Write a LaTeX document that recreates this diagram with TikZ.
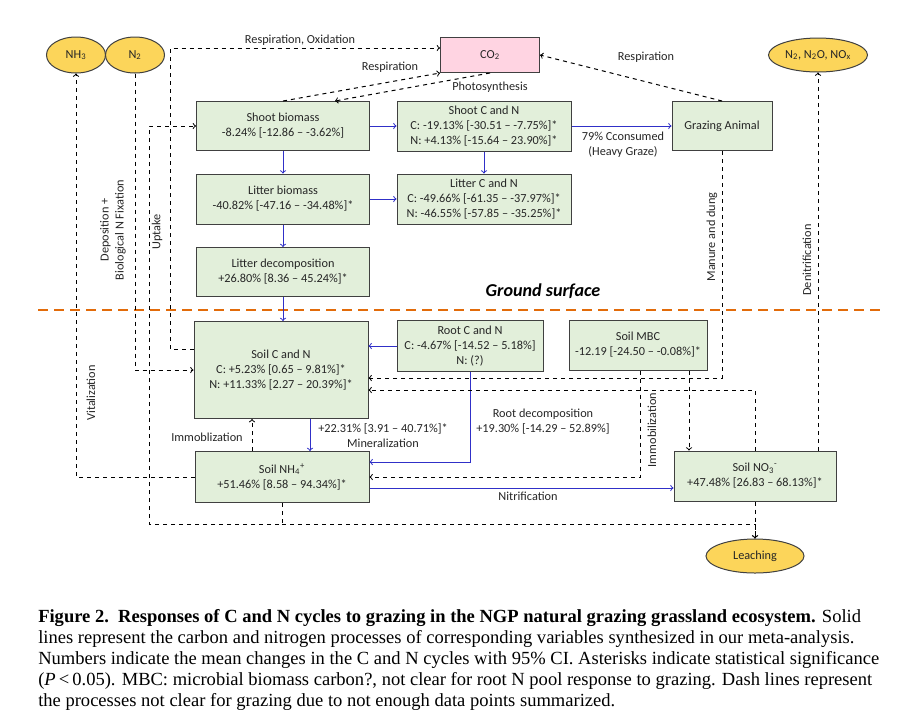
\documentclass[tikz,border=0pt]{standalone}
\usepackage{fontspec}
\setmainfont{Carlito}
\newfontfamily\capfont{Liberation Serif}
\usetikzlibrary{arrows}
\usetikzlibrary{shapes.geometric}
\definecolor{boxgreen}{RGB}{226,239,218}
\definecolor{boxline}{RGB}{64,64,64}
\definecolor{poolgold}{RGB}{252,213,90}
\definecolor{copink}{RGB}{255,212,226}
\definecolor{flowblue}{RGB}{48,48,200}
\definecolor{groundorange}{RGB}{226,107,10}
\definecolor{inktext}{RGB}{38,38,38}

\begin{document}
\begin{tikzpicture}[x=0.75pt,y=0.75pt,yscale=-1,xscale=1,
	varbox/.style={draw=boxline,line width=0.75pt,fill=boxgreen,inner sep=0pt,align=center,text=inktext,font=\fontsize{9.2}{11.25}\selectfont},
	poolell/.style={ellipse,draw=boxline,line width=0.75pt,fill=poolgold,inner sep=0pt,text=inktext,font=\fontsize{9.2}{11.25}\selectfont},
	flow/.style={draw=flowblue,line width=0.75pt,->},
	unclear/.style={draw=black,line width=0.75pt,dashed,->},
	lbl/.style={align=center,text=inktext,font=\fontsize{9.2}{11.25}\selectfont}]
	
	\path[fill=white,use as bounding box] (0,0) rectangle (921,719);
	
	%Straight Lines [ground surface]
	\draw [groundorange,line width=1.5pt,dash pattern=on 7.5pt off 4.5pt]   (38,310) -- (880,310) ;
	% Text Node
	\draw (543,291) node [text=black,font=\fontsize{13.6}{15}\selectfont\bfseries\itshape] (ground) {Ground surface};
	
	%Shape: Ellipses
	\draw (76,55) node [poolell,minimum width=44.25pt,minimum height=27pt] (nh3) {NH\textsubscript{3}};
	\draw (135,55) node [poolell,minimum width=44.25pt,minimum height=27pt] (n2) {N\textsubscript{2}};
	\draw (818,55) node [poolell,minimum width=74.25pt,minimum height=25.5pt] (nox) {N\textsubscript{2}, N\textsubscript{2}O, NO\textsubscript{x}};
	\draw (755,556) node [poolell,minimum width=73.5pt,minimum height=25.5pt] (leach) {Leaching};
	
	%Shape: Rectangle [CO2]
	\draw (490,55) node [varbox,fill=copink,minimum width=74.25pt,minimum height=26.25pt] (co2) {CO\textsubscript{2}};
	
	%Shape: Rectangles [above ground]
	\draw (283,126) node [varbox,minimum width=129.75pt,minimum height=36.75pt] (sbio) {Shoot biomass\\-8.24\% [-12.86 – -3.62\%]};
	\draw (283,199) node [varbox,minimum width=129.75pt,minimum height=37.5pt] (lbio) {Litter biomass\\-40.82\% [-47.16 – -34.48\%]*};
	\draw (283,272) node [varbox,minimum width=129.75pt,minimum height=36.75pt] (ldec) {Litter decomposition\\+26.80\% [8.36 – 45.24\%]*};
	\draw (484,126) node [varbox,minimum width=130.5pt,minimum height=37.5pt] (shcn) {Shoot C and N\\C: -19.13\% [-30.51 – -7.75\%]*\\N: +4.13\% [-15.64 – 23.90\%]*};
	\draw (484,199) node [varbox,minimum width=130.5pt,minimum height=37.5pt] (lcn) {Litter C and N\\C: -49.66\% [-61.35 – -37.97\%]*\\N: -46.55\% [-57.85 – -35.25\%]*};
	\draw (722,126) node [varbox,minimum width=75pt,minimum height=36.75pt] (ga) {Grazing Animal};
	
	%Shape: Rectangles [below ground]
	\draw (281,370) node [varbox,minimum width=130.5pt,minimum height=72.75pt] (scn) {Soil C and N\\C: +5.23\% [0.65 – 9.81\%]*\\N: +11.33\% [2.27 – 20.39\%]*};
	\draw (282,477) node [varbox,minimum width=130.5pt,minimum height=38.25pt] (nh4) {Soil NH\textsubscript{4}\textsuperscript{+}\\+51.46\% [8.58 – 94.34\%]*};
	\draw (470,346) node [varbox,minimum width=109.5pt,minimum height=38.25pt] (rcn) {Root C and N\\C: -4.67\% [-14.52 – 5.18\%]\\N: (?)};
	\draw (638,345) node [varbox,minimum width=103.5pt,minimum height=37.5pt] (mbc) {Soil MBC\\-12.19 [-24.50 – -0.08\%]*};
	\draw (755,476) node [varbox,minimum width=121.5pt,minimum height=37.5pt] (no3) {Soil NO\textsubscript{3}\textsuperscript{-}\\+47.48\% [26.83 – 68.13\%]*};
	
	%Straight Lines [solid, synthesized]
	\draw [flow] (sbio.east) -- (shcn.west) ;
	\draw [flow] (sbio.south) -- (lbio.north) ;
	\draw [flow] (lbio.east) -- (lcn.west) ;
	\draw [flow] (shcn.south) -- (lcn.north) ;
	\draw [flow] (lbio.south) -- (ldec.north) ;
	\draw [flow] (ldec.south) -- (ldec.south |- scn.north) ;
	\draw [flow] (shcn.east) -- (ga.west) ;
	\draw [flow] (rcn.west) -- (scn.east |- rcn.west) ;
	\draw [flow] (rcn.south) |- (nh4.east |- 0,462) ;
	\draw [flow] (scn.south -| 310,0) -- (nh4.north -| 310,0) ;
	\draw [flow] (nh4.east |- 0,488) -- (no3.west |- 0,488) ;
	
	%Straight Lines [dashed, not clear]
	\draw [unclear] (scn.west |- 0,349) -- (170,349) -- (170,48) -- (co2.west |- 0,48) ;
	\draw [unclear] (sbio.north) -- (co2.south west) ;
	\draw [unclear] (co2.south) -- (sbio.north -| 335,0) ;
	\draw [unclear] (ga.north) -- (co2.east) ;
	\draw [unclear] (nh4.south) |- (149,524) |- (sbio.west) ;
	\draw [unclear] (nh4.south |- 0,524) -| (leach.north) ;
	\draw [unclear] (no3.south) -- (leach.north) ;
	\draw [unclear] (n2.south) |- (scn.west) ;
	\draw [unclear] (nh4.west) -| (nh3.south) ;
	\draw [unclear] (nh4.north -| 252,0) -- (scn.south -| 252,0) ;
	\draw [unclear] (ga.south) |- (scn.east |- 0,378) ;
	\draw [unclear] (no3.north) |- (scn.east |- 0,390) ;
	\draw [unclear] (mbc.south -| 640,0) |- (nh4.east) ;
	\draw [unclear] (mbc.south -| 689,0) -- (no3.north -| 689,0) ;
	\draw [unclear] (no3.north -| nox.south) -- (nox.south) ;
	
	% Text Node
	\draw (300,40) node [lbl] (resox) {Respiration, Oxidation};
	\draw (390,67) node [lbl] (resshoot) {Respiration};
	\draw (490,87) node [lbl] (photo) {Photosynthesis};
	\draw (646,57) node [lbl] (resga) {Respiration};
	\draw (623,145) node [lbl] (consumed) {79\% Cconsumed\\(Heavy Graze)};
	\draw (157,232) node [lbl,rotate=90] (uptake) {Uptake};
	\draw (113,230) node [lbl,rotate=90] (depo) {Deposition +\\Biological N Fixation};
	\draw (91,393) node [lbl,rotate=90] (vital) {Vitalization};
	\draw (207,437) node [lbl] (immob) {Immoblization};
	\draw (383,436) node [lbl] (miner) {+22.31\% [3.91 – 40.71\%]*\\Mineralization};
	\draw (543,422) node [lbl] (rootdec) {Root decomposition\\+19.30\% [-14.29 – 52.89\%]};
	\draw (528,496) node [lbl] (nitri) {Nitrification};
	\draw (652,430) node [lbl,rotate=90] (immobmbc) {Immobilization};
	\draw (712,237) node [lbl,rotate=90] (manure) {Manure and dung};
	\draw (807,260) node [lbl,rotate=90] (denit) {Denitrification};
	
	% Text Node [caption]
	\draw (38,609) node [anchor=north west,inner sep=0pt,align=left,font=\capfont\fontsize{13.9}{15.75}\selectfont] (caption) {\textbf{Figure 2.\ \ Responses of C and N cycles to grazing in the NGP natural grazing grassland ecosystem.} Solid\\lines represent the carbon and nitrogen processes of corresponding variables synthesized in our meta-analysis.\\Numbers indicate the mean changes in the C and N cycles with 95\% CI. Asterisks indicate statistical significance\\(\textit{P}\,<\,0.05). MBC: microbial biomass carbon?, not clear for root N pool response to grazing. Dash lines represent\\the processes not clear for grazing due to not enough data points summarized.};
\end{tikzpicture}
\end{document}
